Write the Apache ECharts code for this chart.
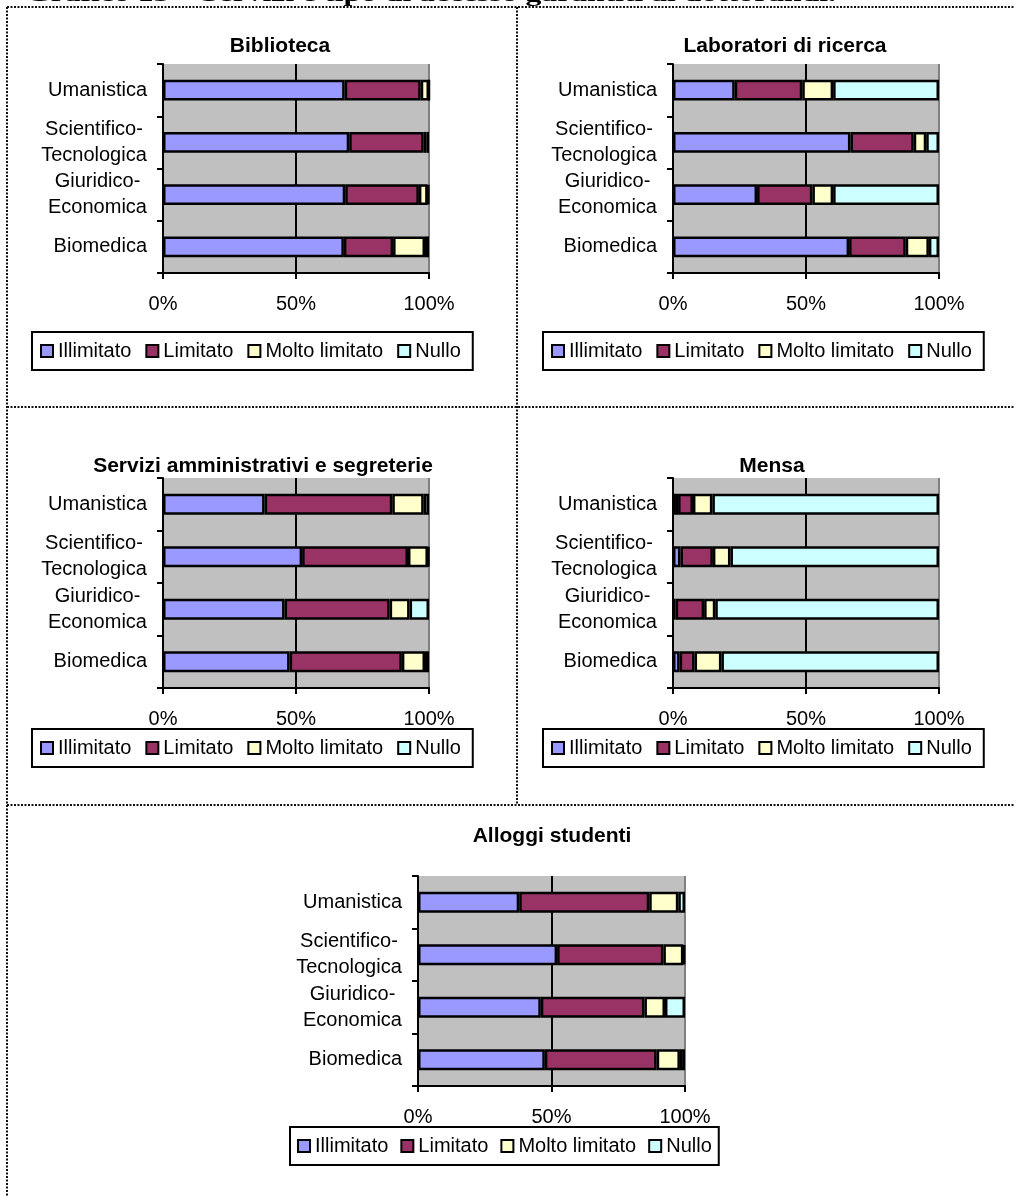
<!DOCTYPE html>
<html>
<head>
<meta charset="utf-8">
<script src="https://cdn.jsdelivr.net/npm/echarts@6/dist/echarts.min.js"></script>
<style>
html,body{margin:0;padding:0;background:#fff;}
#chart{width:1015px;height:1196px;}
</style>
</head>
<body>
<div id="chart"></div>
<script>
// ---------- DATA ----------
const heading = 'Grafico 13 – Servizi e tipo di accesso garantiti ai dottorandi.';
const categories = ['Biomedica', 'Giuridico-\nEconomica', 'Scientifico-\nTecnologica', 'Umanistica'];
const seriesNames = ['Illimitato', 'Limitato', 'Molto limitato', 'Nullo'];
const xTickLabels = ['0%', '50%', '100%'];
const panelTitles = ['Biblioteca', 'Laboratori di ricerca', 'Servizi amministrativi e segreterie', 'Mensa', 'Alloggi studenti'];

// values per category (order: Biomedica, Giuridico-Economica, Scientifico-Tecnologica, Umanistica)
const bibliotecaIllimitato = [68, 68.5, 70, 68.3];
const bibliotecaLimitato   = [18.5, 27.7, 28, 28.6];
const bibliotecaMolto      = [12, 3.3, 1, 3.1];
const bibliotecaNullo      = [1.5, 0.5, 1, 0];

const laboratoriIllimitato = [66.2, 31.6, 66.7, 23.2];
const laboratoriLimitato   = [21.3, 20.8, 23.8, 25.4];
const laboratoriMolto      = [8.7, 7.8, 4.7, 11.6];
const laboratoriNullo      = [3.8, 39.8, 4.8, 39.8];

const serviziIllimitato = [47.6, 45.7, 52.3, 38.2];
const serviziLimitato   = [42.2, 39.5, 39.8, 48];
const serviziMolto      = [8.7, 7.5, 7.5, 11.8];
const serviziNullo      = [1.5, 7.3, 0.4, 2];

const mensaIllimitato = [2.5, 1, 2.8, 1.9];
const mensaLimitato   = [5.6, 10.7, 12.2, 5.6];
const mensaMolto      = [10.1, 4.2, 6.6, 7.3];
const mensaNullo      = [81.8, 84.1, 78.4, 85.2];

const alloggiIllimitato = [47.5, 46, 52.1, 37.9];
const alloggiLimitato   = [41.9, 38.8, 39.8, 48.7];
const alloggiMolto      = [8.7, 7.7, 7.5, 10.9];
const alloggiNullo      = [1.9, 7.5, 0.6, 2.5];

const panelData = [
  [bibliotecaIllimitato, bibliotecaLimitato, bibliotecaMolto, bibliotecaNullo],
  [laboratoriIllimitato, laboratoriLimitato, laboratoriMolto, laboratoriNullo],
  [serviziIllimitato, serviziLimitato, serviziMolto, serviziNullo],
  [mensaIllimitato, mensaLimitato, mensaMolto, mensaNullo],
  [alloggiIllimitato, alloggiLimitato, alloggiMolto, alloggiNullo]
];

// ---------- LAYOUT / STYLE ----------
const FONT = '"Liberation Sans", Arial, sans-serif';
const colors = ['#9999FF', '#993366', '#FFFFCC', '#CCFFFF'];
const layout = [
  {grid: {left: 163, top: 64, width: 266, height: 209}, titleX: 280, titleY: 36, legend: {left: 32, top: 332, gap: 14, pad: [9, 12, 9, 8]}},
  {grid: {left: 673, top: 64, width: 266, height: 209}, titleX: 785, titleY: 36, legend: {left: 543, top: 332, gap: 14, pad: [9, 12, 9, 8]}},
  {grid: {left: 163, top: 478, width: 266, height: 210}, titleX: 263, titleY: 456, legend: {left: 32, top: 729, gap: 14, pad: [9, 12, 9, 8]}},
  {grid: {left: 673, top: 478, width: 266, height: 210}, titleX: 772, titleY: 456, legend: {left: 543, top: 729, gap: 14, pad: [9, 12, 9, 8]}},
  {grid: {left: 418, top: 876, width: 267, height: 210}, titleX: 552, titleY: 826, legend: {left: 290, top: 1127, gap: 12, pad: [9, 7, 9, 7]}}
];

// measure label lines so multi-line labels are centred on each other
const cv = document.createElement('canvas').getContext('2d');
cv.font = '20px ' + FONT;
const rich = {};
categories.forEach((c, i) => {
  const lines = c.split('\n');
  if (lines.length > 1) {
    const w = Math.max(...lines.map(l => cv.measureText(l).width));
    rich['w' + i] = {width: Math.ceil(w), align: 'center', fontSize: 20, fontFamily: FONT, color: '#000', lineHeight: 26};
  }
});

const chart = echarts.init(document.getElementById('chart'), null, {renderer: 'canvas'});

const grids = [], xAxes = [], yAxes = [], series = [], titles = [], legends = [];
layout.forEach((L, p) => {
  grids.push(Object.assign({show: true, backgroundColor: '#C0C0C0', borderWidth: 0, containLabel: false}, L.grid));
  titles.push({
    text: panelTitles[p], left: L.titleX, top: L.titleY, textAlign: 'center', padding: 0,
    textStyle: {fontFamily: FONT, fontWeight: 'bold', fontSize: 21, color: '#000'}
  });
  legends.push({
    data: seriesNames, left: L.legend.left, top: L.legend.top, orient: 'horizontal',
    selectedMode: false, icon: 'rect', itemWidth: 12, itemHeight: 12, itemGap: L.legend.gap,
    padding: L.legend.pad, borderColor: '#000', borderWidth: 2, backgroundColor: '#fff',
    itemStyle: {borderColor: '#000', borderWidth: 2},
    textStyle: {fontFamily: FONT, fontSize: 20, color: '#000'}
  });
  xAxes.push({
    gridIndex: p, type: 'value', min: 0, max: 100, interval: 50,
    axisLine: {show: true, lineStyle: {color: '#000', width: 2}},
    axisTick: {show: true, length: 6, lineStyle: {color: '#000', width: 2}},
    axisLabel: {fontFamily: FONT, fontSize: 20, color: '#000', margin: 21,
      formatter: v => xTickLabels[Math.round(v / 50)]},
    splitLine: {show: true, lineStyle: {color: ['#000', '#000', '#808080'], width: 2}}
  });
  yAxes.push({
    gridIndex: p, type: 'category', data: categories,
    axisLine: {show: true, lineStyle: {color: '#000', width: 2}},
    axisTick: {show: true, length: 6, lineStyle: {color: '#000', width: 2}},
    axisLabel: {fontFamily: FONT, fontSize: 20, color: '#000', margin: 16, align: 'right', lineHeight: 26,
      rich: rich,
      formatter: (v) => {
        const idx = categories.indexOf(v);
        if (rich['w' + idx]) return v.split('\n').map(l => '{w' + idx + '|' + l + '}').join('\n');
        return v;
      }},
    splitLine: {show: false}
  });
  seriesNames.forEach((name, s) => {
    series.push({
      type: 'bar', name: name, xAxisIndex: p, yAxisIndex: p, stack: 'panel' + p,
      data: panelData[p][s], barWidth: '40%',
      itemStyle: {color: colors[s], borderColor: '#000', borderWidth: 2.5},
      emphasis: {disabled: true}, silent: true
    });
  });
});

const dotted = {stroke: '#111', lineWidth: 2, lineDash: [2, 1.5]};
const graphic = [
  {type: 'line', shape: {x1: 7, y1: 7, x2: 1015, y2: 7}, style: dotted},
  {type: 'line', shape: {x1: 7, y1: 7, x2: 7, y2: 1196}, style: dotted},
  {type: 'line', shape: {x1: 517, y1: 7, x2: 517, y2: 805}, style: dotted},
  {type: 'line', shape: {x1: 7, y1: 407, x2: 1015, y2: 407}, style: dotted},
  {type: 'line', shape: {x1: 7, y1: 805, x2: 1015, y2: 805}, style: dotted}
];
// heading, mostly cut off at the top edge
cv.font = 'bold 20px "Liberation Serif"';
const hw = cv.measureText(heading).width;
graphic.push({
  type: 'text', x: 26, y: 6, scaleX: 810 / hw,
  style: {text: heading, font: 'bold 20px "Liberation Serif", serif', fill: '#000', verticalAlign: 'bottom', align: 'left'}
});

chart.setOption({
  animation: false,
  backgroundColor: '#fff',
  title: titles,
  legend: legends,
  grid: grids,
  xAxis: xAxes,
  yAxis: yAxes,
  series: series,
  graphic: graphic
});
</script>
</body>
</html>
